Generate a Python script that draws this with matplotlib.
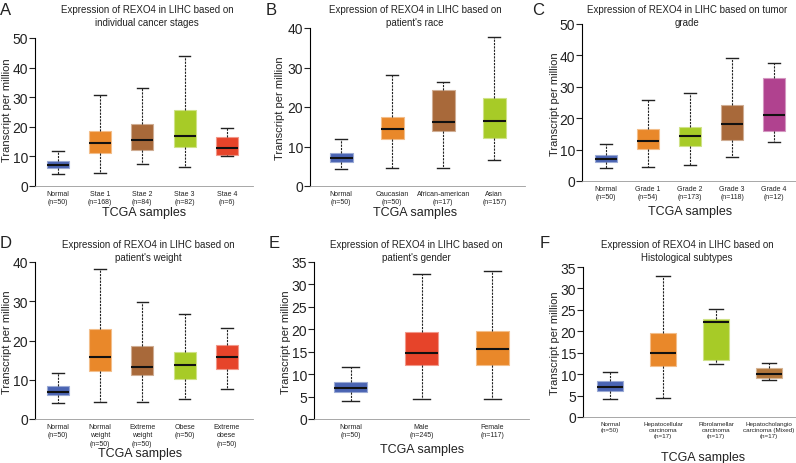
import matplotlib.pyplot as plt
from matplotlib.colors import to_rgb

plt.rcParams['font.family'] = ['Liberation Sans', 'DejaVu Sans']

W, H = 796, 464

BLUE = '#4a64b3'
ORANGE = '#e9882a'
BROWN = '#a8693a'
LIME = '#a7cb27'
RED = '#e6442a'
MAGENTA = '#b0428f'
TAN = '#b3773c'

# A - cancer stages
a_labels = ['Normal\n(n=50)', 'Stae 1\n(n=168)', 'Stae 2\n(n=84)', 'Stae 3\n(n=82)', 'Stae 4\n(n=6)']
a_low = [4.2, 4.5, 7.5, 6.5, 10.0]
a_q1 = [6.0, 11.2, 12.3, 13.2, 10.5]
a_med = [7.0, 14.4, 15.5, 16.8, 13.0]
a_q3 = [8.3, 18.5, 20.9, 25.7, 16.5]
a_high = [11.8, 30.8, 33.2, 44.0, 19.7]

# B - race
b_labels = ['Normal\n(n=50)', 'Caucasian\n(n=50)', 'African-american\n(n=17)', 'Asian\n(n=157)']
b_low = [4.2, 4.5, 4.5, 6.7]
b_q1 = [6.0, 12.0, 13.8, 12.2]
b_med = [7.0, 14.4, 16.2, 16.4]
b_q3 = [8.3, 17.5, 24.4, 22.3]
b_high = [11.8, 28.0, 26.3, 37.7]

# C - tumor grade
c_labels = ['Normal\n(n=50)', 'Grade 1\n(n=54)', 'Grade 2\n(n=173)', 'Grade 3\n(n=118)', 'Grade 4\n(n=12)']
c_low = [4.2, 4.5, 5.0, 7.5, 12.4]
c_q1 = [6.0, 10.1, 11.1, 13.0, 15.9]
c_med = [7.0, 12.8, 14.3, 18.3, 21.0]
c_q3 = [8.3, 16.6, 17.2, 24.1, 32.8]
c_high = [11.8, 25.8, 28.0, 39.3, 37.5]

# D - weight
d_labels = ['Normal\n(n=50)', 'Normal\nweight\n(n=50)', 'Extreme\nweight\n(n=50)', 'Obese\n(n=50)', 'Extreme\nobese\n(n=50)']
d_low = [4.2, 4.4, 4.4, 5.0, 7.7]
d_q1 = [6.0, 12.3, 11.2, 10.2, 12.8]
d_med = [7.0, 15.7, 13.3, 13.8, 15.7]
d_q3 = [8.3, 23.0, 18.7, 17.0, 18.9]
d_high = [11.8, 38.2, 29.8, 26.8, 23.2]

# E - gender
e_labels = ['Normal\n(n=50)', 'Male\n(n=245)', 'Female\n(n=117)']
e_low = [4.0, 4.4, 4.4]
e_q1 = [6.0, 12.0, 12.0]
e_med = [7.0, 14.8, 15.6]
e_q3 = [8.3, 19.5, 19.7]
e_high = [11.7, 32.3, 33.0]

# F - histological subtypes
f_labels = ['Normal\n(n=50)', 'Hepatocellular\ncarcinoma\n(n=17)', 'Fibrolamellar\ncarcinoma\n(n=17)',
            'Hepatocholangio\ncarcinoma (Mixed)\n(n=17)']
f_low = [4.2, 4.4, 12.3, 8.6]
f_q1 = [6.0, 11.9, 13.3, 9.1]
f_med = [6.9, 15.0, 22.2, 10.0]
f_q3 = [8.3, 19.5, 22.8, 11.4]
f_high = [10.6, 33.0, 25.2, 12.6]


def lighten(c, f=0.45):
    r, g, b = to_rgb(c)
    return (r + (1 - r) * f, g + (1 - g) * f, b + (1 - b) * f)


def panel(rect, labels, low, q1, med, q3, high, colors, ymax, ystep, xlim, width, xfs=5):
    l, t, r, b = rect
    ax = fig.add_axes([l / W, 1 - b / H, (r - l) / W, (b - t) / H])
    stats = [dict(whislo=lo, q1=a, med=m, q3=c, whishi=hi)
             for lo, a, m, c, hi in zip(low, q1, med, q3, high)]
    bp = ax.bxp(stats, positions=range(len(stats)), widths=width, capwidths=width * 0.52,
                showfliers=False, patch_artist=True,
                whiskerprops=dict(color='#222222', linewidth=0.8, linestyle=(0, (2, 1))),
                capprops=dict(color='#222222', linewidth=1.0),
                medianprops=dict(color='#111111', linewidth=1.5))
    for patch, col in zip(bp['boxes'], colors):
        patch.set_facecolor(col)
        patch.set_edgecolor(lighten(col))
        patch.set_linewidth(0.8)
    ax.set_xlim(*xlim)
    ax.set_ylim(0, ymax)
    ax.set_yticks(range(0, ymax + 1, ystep))
    ax.set_xticks(range(len(labels)))
    ax.set_xticklabels(labels, fontsize=xfs, linespacing=1.25, color='#222222')
    ax.tick_params(axis='x', length=0, pad=3)
    ax.tick_params(axis='y', labelsize=10, length=4, width=0.8, pad=1, colors='#222222')
    for s in ['top', 'right']:
        ax.spines[s].set_visible(False)
    ax.spines['left'].set_linewidth(0.8)
    ax.spines['bottom'].set_linewidth(0.6)
    ax.spines['bottom'].set_color('#999999')
    return ax


def txt(x, y, s, **kw):
    fig.text(x / W, 1 - y / H, s, color='#222222', **kw)


fig = plt.figure(figsize=(W / 100, H / 100), dpi=100)

panel((35, 39, 253, 187), a_labels, a_low, a_q1, a_med, a_q3, a_high,
      [BLUE, ORANGE, BROWN, LIME, RED], 50, 10, (-0.54, 4.62), 0.52)
panel((310, 29, 525, 187), b_labels, b_low, b_q1, b_med, b_q3, b_high,
      [BLUE, ORANGE, BROWN, LIME], 40, 10, (-0.61, 3.6), 0.45)
panel((582, 25, 796, 182), c_labels, c_low, c_q1, c_med, c_q3, c_high,
      [BLUE, ORANGE, LIME, BROWN, MAGENTA], 50, 10, (-0.57, 4.52), 0.52)
panel((35, 263, 253, 420), d_labels, d_low, d_q1, d_med, d_q3, d_high,
      [BLUE, ORANGE, BROWN, LIME, RED], 40, 10, (-0.54, 4.62), 0.52)
panel((314, 263, 529, 420), e_labels, e_low, e_q1, e_med, e_q3, e_high,
      [BLUE, RED, ORANGE], 35, 5, (-0.52, 2.52), 0.47)
panel((583, 268, 796, 418), f_labels, f_low, f_q1, f_med, f_q3, f_high,
      [BLUE, ORANGE, LIME, TAN], 35, 5, (-0.51, 3.51), 0.5, xfs=4.5)

titles = [
    (147, 16.5, 'Expression of REXO4 in LIHC based on\nindividual cancer stages'),
    (415, 16.5, "Expression of REXO4 in LIHC based on\npatient's race"),
    (687, 16.5, 'Expression of REXO4 in LIHC based on tumor\ngrade'),
    (148, 251.5, "Expression of REXO4 in LIHC based on\npatient's weight"),
    (416, 251.5, "Expression of REXO4 in LIHC based on\npatient's gender"),
    (687, 251.5, 'Expression of REXO4 in LIHC based on\nHistological subtypes'),
]
for x, y, s in titles:
    txt(x, y, s, fontsize=7, ha='center', va='center', linespacing=1.35)

for x, y in [(144, 213), (415, 213), (690, 212), (140, 454), (422, 450), (703, 458)]:
    txt(x, y, 'TCGA samples', fontsize=9, ha='center', va='center')

for x, y in [(7.5, 110), (280, 108), (555, 104), (7.5, 342), (286, 342), (555, 343)]:
    txt(x, y, 'Transcript per million', fontsize=8, ha='center', va='center', rotation=90)

for x, y, s in [(0, 3, 'A'), (266, 3, 'B'), (532, 3, 'C'), (0, 236, 'D'), (269, 236, 'E'), (540, 236, 'F')]:
    txt(x, y, s, fontsize=12, ha='left', va='top')

fig.savefig('out.png', dpi=100)
